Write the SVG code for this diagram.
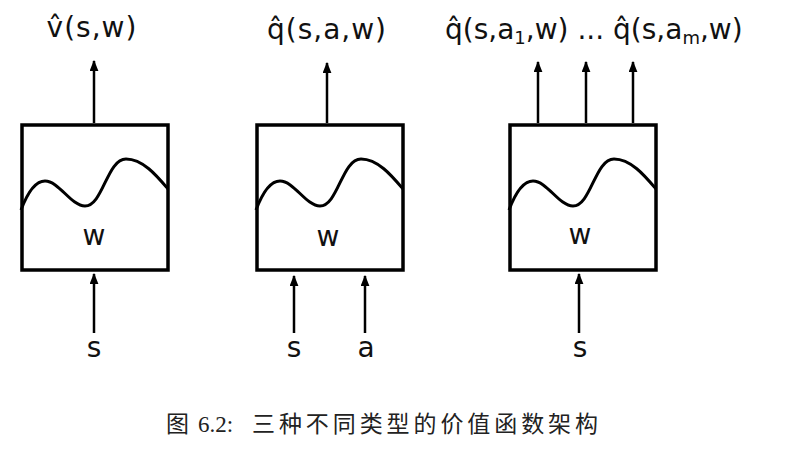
<svg xmlns="http://www.w3.org/2000/svg" width="790" height="454" viewBox="0 0 790 454">
<style>
.box{fill:none;stroke:#000;stroke-width:3.5}
.wave{fill:none;stroke:#000;stroke-width:3}
.arr{stroke:#000;stroke-width:2.5;fill:none}
.lbl{font-family:"DejaVu Sans",sans-serif;font-size:28px;fill:#111}
.sp{letter-spacing:1px}
.cap{font-family:"Liberation Serif","Noto Sans CJK SC",serif;font-size:23px;fill:#222}
</style>
<defs>
<marker id="ah" markerUnits="userSpaceOnUse" viewBox="0 0 10 8" markerWidth="11" markerHeight="9" refX="9" refY="4" orient="auto">
<path d="M0,0 L10,4 L0,8 z" fill="#000"/>
</marker>
<path id="wv" d="M0,86 C6,70 14,57 24,57 C38,57 50,82 64,82 C82,82 86,35 105,35 C122,35 136,52 147,65"/>
</defs>
<g id="node-v">
<rect class="box" x="22" y="125" width="146" height="145"/>
<use href="#wv" class="wave" x="21" y="124"/>
<text class="lbl" x="94" y="245" text-anchor="middle">w</text>
</g>
<g id="node-q">
<rect class="box" x="257" y="125" width="146" height="145"/>
<use href="#wv" class="wave" x="256" y="124"/>
<text class="lbl" x="328" y="246" text-anchor="middle">w</text>
</g>
<g id="node-qm">
<rect class="box" x="510" y="125" width="146" height="145"/>
<use href="#wv" class="wave" x="509" y="124"/>
<text class="lbl" x="580" y="244" text-anchor="middle">w</text>
</g>
<g id="connectors">
<line class="arr" x1="94" y1="123" x2="94" y2="61" marker-end="url(#ah)"/>
<line class="arr" x1="94" y1="333" x2="94" y2="274" marker-end="url(#ah)"/>
<line class="arr" x1="327" y1="123" x2="327" y2="63" marker-end="url(#ah)"/>
<line class="arr" x1="294" y1="333" x2="294" y2="276" marker-end="url(#ah)"/>
<line class="arr" x1="365" y1="333" x2="365" y2="276" marker-end="url(#ah)"/>
<line class="arr" x1="538" y1="123" x2="538" y2="62" marker-end="url(#ah)"/>
<line class="arr" x1="586" y1="123" x2="586" y2="62" marker-end="url(#ah)"/>
<line class="arr" x1="633" y1="123" x2="633" y2="62" marker-end="url(#ah)"/>
<line class="arr" x1="579" y1="333" x2="579" y2="274" marker-end="url(#ah)"/>
</g>
<g id="labels">
<text class="lbl sp" x="92" y="37" text-anchor="middle">v̂(s,w)</text>
<text class="lbl sp" x="327" y="39" text-anchor="middle">q̂(s,a,w)</text>
<text class="lbl" x="445" y="39">q̂(s,a<tspan font-size="18" dy="5">1</tspan><tspan dy="-5">,w) ... q̂(s,a</tspan><tspan font-size="18" dy="5">m</tspan><tspan dy="-5">,w)</tspan></text>
<text class="lbl" x="94" y="357" text-anchor="middle">s</text>
<text class="lbl" x="294" y="357" text-anchor="middle">s</text>
<text class="lbl" x="366" y="357" text-anchor="middle">a</text>
<text class="lbl" x="580" y="357" text-anchor="middle">s</text>
</g>
<text class="cap" y="432"><tspan x="166">图</tspan><tspan x="198">6.2:</tspan><tspan x="252" textLength="346" lengthAdjust="spacing">三种不同类型的价值函数架构</tspan></text>
</svg>
